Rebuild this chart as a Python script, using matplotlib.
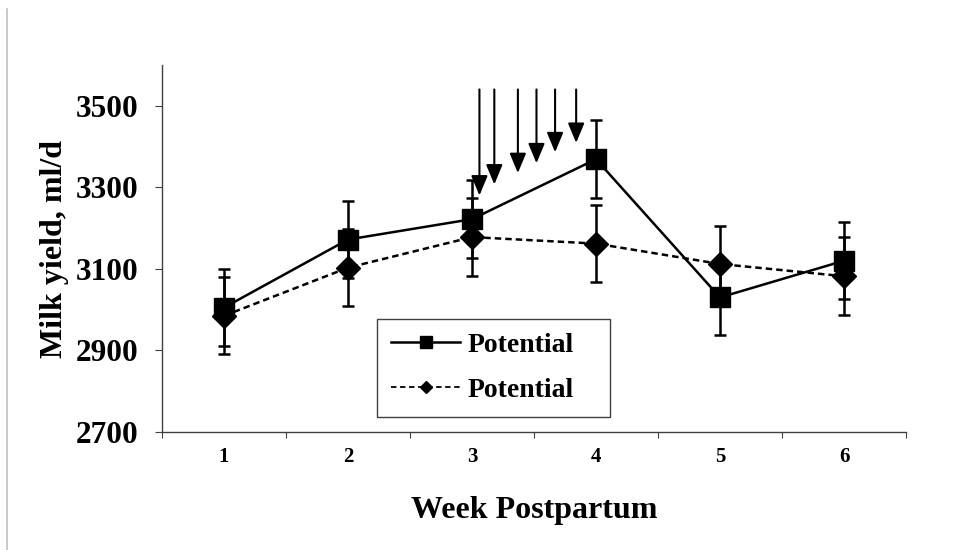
import numpy as np
import matplotlib
matplotlib.use("Agg")
import matplotlib.pyplot as plt
from matplotlib.lines import Line2D

# data
weeks = [1, 2, 3, 4, 5, 6]
yield_a = [3005, 3172, 3222, 3369, 3030, 3120]
err_a = [94, 95, 95, 95, 93, 95]
yield_b = [2985, 3103, 3178, 3162, 3112, 3082]
err_b = [94, 95, 95, 95, 92, 95]
series_names = ["Potential", "Potential"]

arrow_x = [3.06, 3.18, 3.37, 3.52, 3.67, 3.84]
arrow_tip = [3280, 3307, 3335, 3359, 3386, 3409]
arrow_top = 3540

yticks = [2700, 2900, 3100, 3300, 3500]

plt.rcParams['font.family'] = ['Liberation Serif', 'DejaVu Serif']
plt.rcParams['font.weight'] = 'bold'
plt.rcParams['axes.labelweight'] = 'bold'

fig = plt.figure(figsize=(9.74, 5.5), dpi=100)
ax = fig.add_axes([162/974, 1-432/550, 744/974, 367/550])

ax.errorbar(weeks, yield_b, yerr=err_b, color='black', lw=1.8,
            linestyle=(0, (2.6, 1.6)), marker='D', ms=12,
            elinewidth=1.8, capsize=4.5, capthick=1.8, zorder=3)
ax.errorbar(weeks, yield_a, yerr=err_a, color='black', lw=1.8,
            linestyle='-', marker='s', ms=15,
            elinewidth=1.8, capsize=4.5, capthick=1.8, zorder=4)

for x, tip in zip(arrow_x, arrow_tip):
    ax.annotate('', xy=(x, tip), xytext=(x, arrow_top),
                arrowprops=dict(arrowstyle='-|>,head_length=1.2,head_width=0.5',
                                lw=1.5, color='black', shrinkA=0, shrinkB=0))

ax.set_xlim(0.5, 6.5)
ax.set_ylim(2700, 3600)
ax.set_xticks(np.arange(0.5, 7, 1))
ax.set_xticklabels([])
ax.set_xticks(weeks, minor=True)
ax.set_xticklabels([str(w) for w in weeks], minor=True, fontsize=15)
ax.tick_params(axis='x', which='major', direction='out', length=4.5, color='#404040')
ax.tick_params(axis='x', which='minor', length=0, pad=11)
ax.set_yticks(yticks)
ax.set_yticklabels([str(v) for v in yticks], fontsize=22.5)
ax.tick_params(axis='y', direction='out', length=5, pad=12, color='#404040')

for s in ['top', 'right']:
    ax.spines[s].set_visible(False)
for s in ['left', 'bottom']:
    ax.spines[s].set_color('#404040')
    ax.spines[s].set_linewidth(1.0)

ax.set_xlabel('Week Postpartum', fontsize=23, fontweight='bold', labelpad=21)
ax.set_ylabel('Milk yield, ml/d', fontsize=23, fontweight='bold', labelpad=5)

handles = [Line2D([], [], color='black', lw=1.8, marker='s', ms=9),
           Line2D([], [], color='black', lw=1.3, linestyle=(0, (3, 2)), marker='D', ms=6.5)]
leg = ax.legend(handles, series_names, loc='lower left',
                bbox_to_anchor=(0.289, 0.041, 0.313, 0.266), mode='expand',
                borderaxespad=0, fontsize=20, handlelength=2.5, handletextpad=0.25,
                labelspacing=0.7, borderpad=0.5, fancybox=False,
                edgecolor='#404040', framealpha=1)
leg.get_frame().set_linewidth(1.0)

# gray frame line at the image's left edge
fig.add_artist(Line2D([6.5/974, 6.5/974], [0, 1-9/550], color='#c0c0c0', lw=1.2,
                      transform=fig.transFigure))

fig.savefig('out.png', dpi=100)
